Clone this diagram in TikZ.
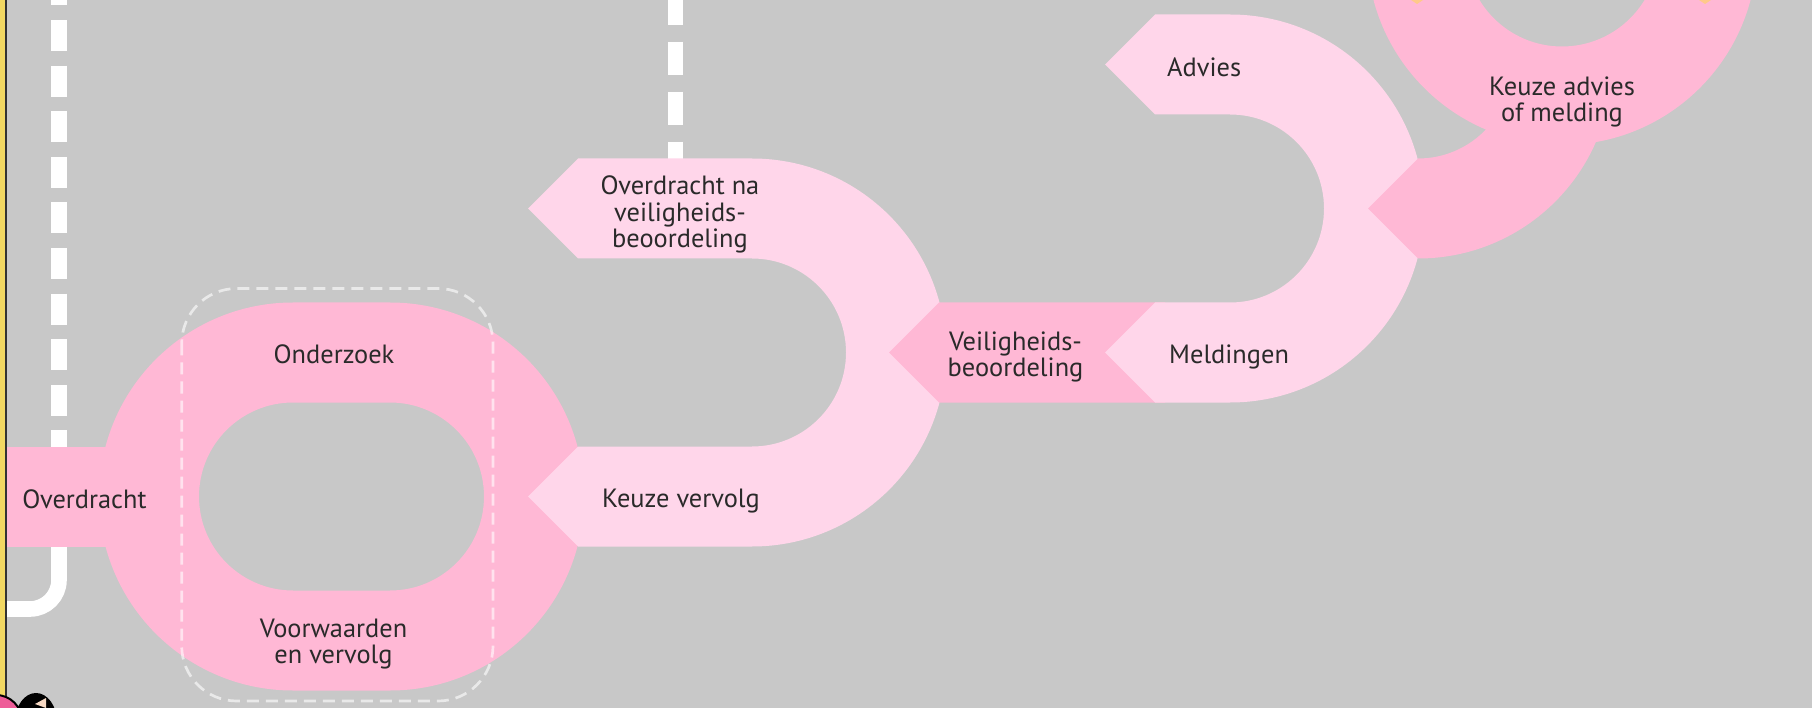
\documentclass[tikz,border=0pt]{standalone}
\usepackage{fontspec}
\setmainfont{PT Sans}
\definecolor{bg}{HTML}{C8C8C8}
\definecolor{dkpink}{HTML}{FFB8D5}
\definecolor{ltpink}{HTML}{FFD6EA}
\definecolor{txt}{HTML}{2A2A2A}
\definecolor{baryellow}{HTML}{F2D862}
\definecolor{orng}{HTML}{FFC98A}
\definecolor{hotpink}{HTML}{EE5C98}
\definecolor{skin}{HTML}{F7D9C4}
\begin{document}
\begin{tikzpicture}[x=1pt,y=1pt,
  lbl/.style={font=\fontsize{26.4}{26.5}\selectfont, text=txt, inner sep=0pt, align=center},
  dk/.style={fill=dkpink},
  lt/.style={fill=ltpink},
  roadline/.style={white, line width=15.6pt},
  groupbox/.style={draw=white, draw opacity=0.6, line width=2.7pt, dash pattern=on 12pt off 7pt, rounded corners=55pt}]
\useasboundingbox (0,0) rectangle (1812,-708);
\clip (0,0) rectangle (1812,-708);
\fill[bg] (0,0) rectangle (1812,-708);

% white road lines
\draw[roadline, dash pattern=on 31pt off 14.6pt] (59,25.6) -- (59,-450);
\draw[roadline, dash pattern=on 33.3pt off 16.7pt] (675.5,8.3) -- (675.5,-170);
\draw[roadline] (59,-540) -- (59,-580) arc[start angle=0,end angle=-90,radius=29pt] -- (6,-609);

% big ring (Onderzoek loop) and Overdracht block
\fill[dk, even odd rule]
  (293,-302.5) -- (390,-302.5) arc[start angle=90,end angle=-90,radius=194pt]
  -- (293,-690.5) arc[start angle=270,end angle=90,radius=194pt] -- cycle
  (293,-402.5) -- (390,-402.5) arc[start angle=90,end angle=-90,radius=94pt]
  -- (293,-590.5) arc[start angle=270,end angle=90,radius=94pt] -- cycle;
\fill[dk] (6,-446.5) rectangle (160,-546.5);

% U1
\fill[lt] (578,-446.5) -- (752,-446.5) arc[start angle=-90,end angle=90,radius=94pt]
  -- (578,-258.5) -- (528,-208.5) -- (578,-158.5) -- (752,-158.5)
  arc[start angle=90,end angle=-90,radius=194pt] -- (578,-546.5) -- (528,-496.5) -- cycle;

% Veiligheidsbeoordeling block
\fill[dk] (889,-352.5) -- (939,-302.5) -- (1165,-302.5) -- (1165,-402.5) -- (939,-402.5) -- cycle;

% U2
\fill[lt] (1155,-302.5) -- (1230,-302.5) arc[start angle=-90,end angle=90,radius=94pt]
  -- (1155,-114.5) -- (1105,-64.5) -- (1155,-14.5) -- (1230,-14.5)
  arc[start angle=90,end angle=-90,radius=194pt] -- (1155,-402.5) -- (1105,-352.5) -- cycle;

% connector and Keuze advies ring
\fill[dk] (1368,-208.5) -- (1418,-258.5) arc[start angle=-90,end angle=0,radius=194pt]
  -- (1512,-64.5) arc[start angle=0,end angle=-90,radius=94pt] -- cycle;
\fill[dk, even odd rule] (1562,50) circle[radius=195pt] (1562,50) circle[radius=96.5pt];
\fill[orng] (1411,0) -- (1423,0) -- (1417,-4) -- cycle;
\fill[orng] (1699,0) -- (1711,0) -- (1705,-4) -- cycle;

% dashed group box
\draw[groupbox] (181.7,-288.5) rectangle (493,-701);

% yellow bar with dark edge
\fill[fill=baryellow] (-2,2) rectangle (5.5,-710);
\draw[draw=black!80, line width=1.6pt] (6.2,2) -- (6.2,-710);

% labels
\node[lbl] (ov) at (84.5,-499) {Overdracht};
\node[lbl] (onz) at (334,-354) {Onderzoek};
\node[lbl] (vw) at (333.5,-644) {Voorwaarden\\en vervolg};
\node[lbl, anchor=west] (kv) at (602,-501) {Keuze vervolg};
\node[lbl] (on) at (680,-214.5) {Overdracht na\\veiligheids-\\beoordeling};
\node[lbl] (vb) at (1015.5,-357) {Veiligheids-\\beoordeling};
\node[lbl, anchor=west] (meld) at (1169,-357) {Meldingen};
\node[lbl, anchor=west] (adv) at (1167,-66.8) {Advies};
\node[lbl] (ka) at (1562,-102) {Keuze advies\\of melding};

% figures cut at the bottom edge
\filldraw[fill=hotpink, draw=black, line width=2pt] (-4,-721) circle[radius=26pt];
\fill[black] (36,-722) ellipse[x radius=21pt, y radius=29pt];
\fill[skin] (35,-704) -- (46,-698) -- (46,-708) -- cycle;
\end{tikzpicture}
\end{document}
